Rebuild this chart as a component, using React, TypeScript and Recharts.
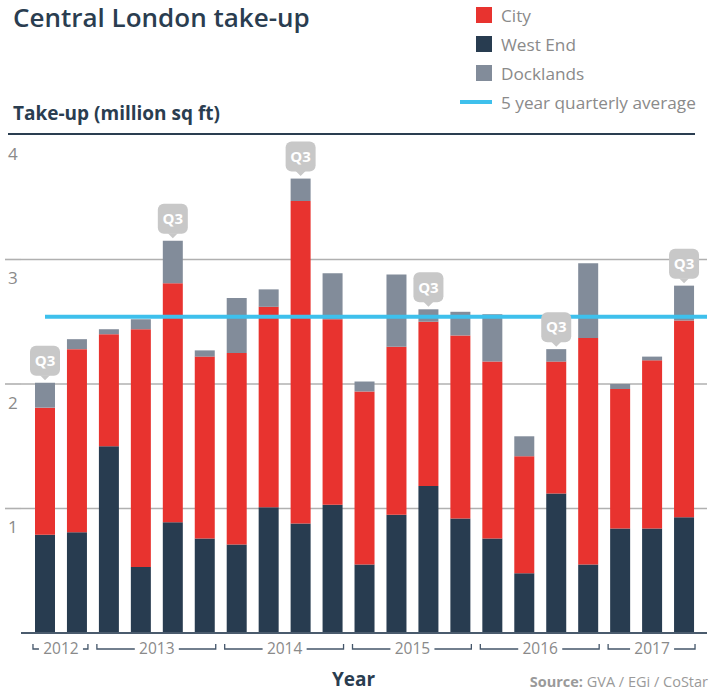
import React from 'react';
import { BarChart, Bar, XAxis, YAxis, CartesianGrid, ReferenceLine, LabelList } from 'recharts';

const years = ['2012','2012','2013','2013','2013','2013','2014','2014','2014','2014','2015','2015','2015','2015','2016','2016','2016','2016','2017','2017','2017'];
const quarters = ['Q3','Q4','Q1','Q2','Q3','Q4','Q1','Q2','Q3','Q4','Q1','Q2','Q3','Q4','Q1','Q2','Q3','Q4','Q1','Q2','Q3'];
const westEnd = [0.79,0.81,1.50,0.53,0.89,0.76,0.71,1.01,0.88,1.03,0.55,0.95,1.18,0.92,0.76,0.48,1.12,0.55,0.84,0.84,0.93];
const city = [1.02,1.47,0.90,1.91,1.92,1.46,1.54,1.61,2.59,1.49,1.39,1.35,1.32,1.47,1.42,0.94,1.06,1.82,1.12,1.35,1.58];
const docklands = [0.20,0.08,0.04,0.08,0.34,0.05,0.44,0.14,0.18,0.37,0.08,0.58,0.10,0.19,0.38,0.16,0.10,0.60,0.04,0.03,0.28];
const fiveYearAverage = 2.54;
const yTicks = [0, 1, 2, 3, 4];
const gridValues = [1, 2, 3];

const data = quarters.map((q, i) => ({
  period: `${years[i]} ${q}`,
  quarter: q,
  westEnd: westEnd[i],
  city: city[i],
  docklands: docklands[i],
}));

const COL_CITY = '#e8332f';
const COL_WE = '#283c50';
const COL_DOCK = '#828c9a';
const COL_AVG = '#3ec0ec';
const DARK = '#2a3d50';
const GREY_TEXT = '#8a8a8a';
const FONT = '"Open Sans", Lato, sans-serif';

const PLOT_LEFT = 21;

const ValueTick = (props: any) => {
  const { y, payload } = props;
  if (payload.value === 0) return null;
  return (
    <g>
      {payload.value !== 4 && (
        <line x1={5} x2={PLOT_LEFT} y1={y} y2={y} stroke="#b0b0b0" strokeWidth={1.6} />
      )}
      <text x={8} y={y + 19} dy="0.35em" fill={GREY_TEXT} fontSize={17} fontFamily={FONT}>
        {payload.value}
      </text>
    </g>
  );
};

const YearTick = (props: any) => {
  const { x, y, payload } = props;
  const i = typeof payload.index === 'number' ? payload.index : props.index;
  const yr = years[i];
  if (i > 0 && years[i - 1] === yr) return null;
  let n = 0;
  while (years[i + n] === yr) n++;
  const band = typeof payload.offset === 'number' && payload.offset > 0 ? payload.offset * 2 : 31.95;
  const x0 = x - 12;
  const x1 = x + (n - 1) * band + 11;
  const cx = x + ((n - 1) * band) / 2;
  const ly = y + 16;
  const half = 22;
  return (
    <g>
      <path
        d={`M${x0},${ly - 5}V${ly}H${cx - half} M${cx + half},${ly}H${x1}V${ly - 5}`}
        stroke="#44566a"
        strokeWidth={1.3}
        fill="none"
      />
      <text x={cx} y={ly} dy="0.35em" textAnchor="middle" fill={GREY_TEXT} fontSize={15.5} fontFamily={FONT}>
        {yr}
      </text>
    </g>
  );
};

const Q3Callout = (props: any) => {
  const { x, y, width, value } = props;
  if (value !== 'Q3') return null;
  const cx = x + width / 2;
  return (
    <g>
      <rect x={cx - 15} y={y - 37} width={30} height={30} rx={6} fill="#c8c8c8" />
      <path d={`M${cx - 5},${y - 7.5}L${cx + 5},${y - 7.5}L${cx},${y - 2.5}Z`} fill="#c8c8c8" />
      <text x={cx} y={y - 22} dy="0.35em" textAnchor="middle" fill="#ffffff" fontSize={15} fontWeight={700} fontFamily={FONT}>
        Q3
      </text>
    </g>
  );
};

const AvgLine = (props: any) => {
  const { x1, x2, y1 } = props;
  return <line x1={x1 + 24} x2={x2} y1={y1} y2={y1} stroke={COL_AVG} strokeWidth={4} />;
};

const legendItems = [
  { label: 'City', color: COL_CITY, type: 'square' },
  { label: 'West End', color: COL_WE, type: 'square' },
  { label: 'Docklands', color: COL_DOCK, type: 'square' },
  { label: '5 year quarterly average', color: COL_AVG, type: 'line' },
];

export default function App() {
  return (
    <div style={{ position: 'absolute', left: 0, top: 0, width: 720, height: 691, background: '#fff', fontFamily: FONT }}>
      <div style={{ position: 'absolute', left: 13, top: 0, fontSize: 26, fontWeight: 600, color: DARK, lineHeight: '34px', whiteSpace: 'nowrap' }}>
        Central London take-up
      </div>
      <div style={{ position: 'absolute', left: 13, top: 101, fontSize: 19, fontWeight: 700, color: DARK, lineHeight: '24px', whiteSpace: 'nowrap' }}>
        Take-up (million sq ft)
      </div>
      <div style={{ position: 'absolute', left: 460, top: 0, width: 260 }}>
        {legendItems.map((it, k) => (
          <div key={it.label} style={{ position: 'absolute', top: 5 + k * 29, left: 0, height: 20, display: 'flex', alignItems: 'center', whiteSpace: 'nowrap' }}>
            {it.type === 'square' ? (
              <div style={{ width: 16, height: 16, background: it.color, marginLeft: 16 }} />
            ) : (
              <div style={{ width: 32, height: 4, background: it.color }} />
            )}
            <span style={{ marginLeft: 9, fontSize: 17.2, color: GREY_TEXT }}>{it.label}</span>
          </div>
        ))}
      </div>
      <div style={{ position: 'absolute', left: 8, top: 133, width: 687, height: 2, background: DARK }} />
      <BarChart
        width={720}
        height={691}
        data={data}
        margin={{ top: 135, right: 13, bottom: 8, left: 5 }}
        barSize={20}
      >
        <CartesianGrid vertical={false} horizontalValues={gridValues} stroke="#b0b0b0" strokeWidth={1.6} />
        <YAxis
          type="number"
          domain={[0, 4]}
          ticks={yTicks}
          width={16}
          axisLine={false}
          tickLine={false}
          tick={<ValueTick />}
          interval={0}
        />
        <XAxis
          dataKey="period"
          type="category"
          height={50}
          padding={{ left: 8, right: 7 }}
          axisLine={{ stroke: '#4a5b6d', strokeWidth: 2 }}
          tickLine={false}
          tickSize={0}
          tickMargin={0}
          interval={0}
          tick={<YearTick />}
        />
        <Bar dataKey="westEnd" name="West End" stackId="a" fill={COL_WE} isAnimationActive={false} />
        <Bar dataKey="city" name="City" stackId="a" fill={COL_CITY} isAnimationActive={false} />
        <Bar dataKey="docklands" name="Docklands" stackId="a" fill={COL_DOCK} isAnimationActive={false}>
          <LabelList dataKey="quarter" content={<Q3Callout />} />
        </Bar>
        <ReferenceLine y={fiveYearAverage} shape={<AvgLine />} stroke={COL_AVG} strokeWidth={4} />
      </BarChart>
      <div style={{ position: 'absolute', left: 332, top: 669, fontSize: 19, fontWeight: 700, color: DARK, lineHeight: '20px' }}>
        Year
      </div>
      <div style={{ position: 'absolute', right: 12, top: 673, fontSize: 14.5, color: '#9a9a9a', lineHeight: '18px', whiteSpace: 'nowrap' }}>
        <span style={{ fontWeight: 700 }}>Source:</span> GVA / EGi / CoStar
      </div>
    </div>
  );
}
